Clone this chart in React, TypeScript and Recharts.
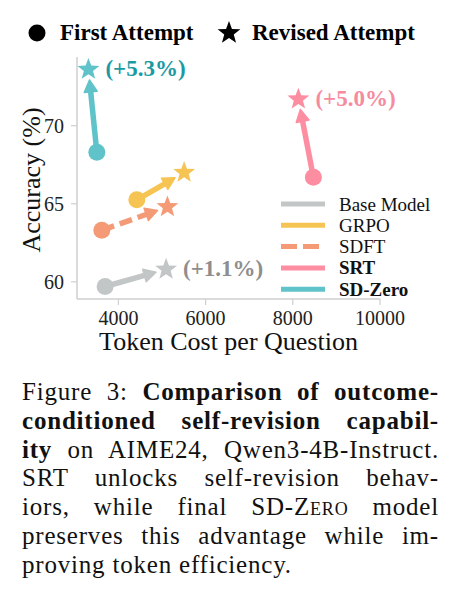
import { ScatterChart, Scatter, XAxis, YAxis, Legend } from 'recharts';

const SERIES = ['Base Model', 'GRPO', 'SDFT', 'SRT', 'SD-Zero'];
const FIRST_COST = [3695, 4422, 3619, 8472, 3505];
const FIRST_ACC = [59.7, 65.25, 63.3, 66.7, 68.3];
const REVISED_COST = [5094, 5507, 5124, 8128, 3312];
const REVISED_ACC = [60.8, 67.0, 64.8, 71.7, 73.6];
const GAIN_LABELS = ['(+1.1%)', '', '', '(+5.0%)', '(+5.3%)'];
const X_TICKS = [4000, 6000, 8000, 10000];
const Y_TICKS = [60, 65, 70];

const COLORS = ['#c3c6c6', '#f6c453', '#f59a77', '#fd8ea2', '#60c3c9'];
const LABEL_COLORS = ['#8e8e8e', '', '', '#f68ba0', '#1c9aa3'];
const DASHED = [false, false, true, false, false];
const BOLD_LEGEND = [false, false, false, true, true];

const FONT = "'Liberation Serif', 'Times New Roman', serif";
const AXIS_COLOR = '#cfcfcf';

function starPath(cx: number, cy: number, R: number, r: number) {
  let d = '';
  for (let i = 0; i < 10; i++) {
    const rad = i % 2 === 0 ? R : r;
    const a = -Math.PI / 2 + (i * Math.PI) / 5;
    d += (i === 0 ? 'M' : 'L') + (cx + rad * Math.cos(a)).toFixed(2) + ',' + (cy + rad * Math.sin(a)).toFixed(2);
  }
  return d + 'Z';
}

// arrow from first attempt to revised attempt, stopping short of the star
function Arrow({ points, color, dashed }: any) {
  if (!points || points.length < 2) return null;
  const [a, b] = points;
  const dx = b.x - a.x;
  const dy = b.y - a.y;
  const len = Math.hypot(dx, dy) || 1;
  const ux = dx / len;
  const uy = dy / len;
  const gap = 10.5;
  const head = 12;
  const w = 6.5;
  const tipX = b.x - ux * gap;
  const tipY = b.y - uy * gap;
  const baseX = tipX - ux * head;
  const baseY = tipY - uy * head;
  const px = -uy;
  const py = ux;
  return (
    <g>
      <line
        x1={a.x}
        y1={a.y}
        x2={baseX + ux * 2}
        y2={baseY + uy * 2}
        stroke={color}
        strokeWidth={5.5}
        strokeDasharray={dashed ? '13 6' : undefined}
      />
      <path
        d={`M${tipX},${tipY} L${baseX + px * w},${baseY + py * w} L${baseX - px * w},${baseY - py * w} Z`}
        fill={color}
        stroke={color}
        strokeWidth={1.5}
        strokeLinejoin="round"
      />
    </g>
  );
}

function Marker(props: any) {
  const { cx, cy, payload } = props;
  const color = COLORS[payload.idx];
  if (payload.kind === 'first') {
    return <circle cx={cx} cy={cy} r={8.5} fill={color} />;
  }
  const gain = GAIN_LABELS[payload.idx];
  return (
    <g>
      <path d={starPath(cx, cy, 11.5, 4.8)} fill={color} />
      {gain && (
        <text
          x={cx + 17}
          y={cy - 1}
          dominantBaseline="central"
          fill={LABEL_COLORS[payload.idx]}
          fontFamily={FONT}
          fontWeight="bold"
          fontSize={23}
        >
          {gain}
        </text>
      )}
    </g>
  );
}

function SeriesLegend() {
  return (
    <svg width={180} height={110}>
      {SERIES.map((name, i) => {
        const y = 12 + i * 21.3;
        return (
          <g key={name}>
            <line
              x1={6}
              x2={50}
              y1={y}
              y2={y}
              stroke={COLORS[i]}
              strokeWidth={5}
              strokeDasharray={DASHED[i] ? '16 6' : undefined}
            />
            <text
              x={64}
              y={y}
              dominantBaseline="central"
              fontFamily={FONT}
              fontSize={19}
              fontWeight={BOLD_LEGEND[i] ? 'bold' : 'normal'}
              fill="#111"
            >
              {name}
            </text>
          </g>
        );
      })}
    </svg>
  );
}

function TopLegend() {
  return (
    <svg width={455} height={60} style={{ position: 'absolute', left: 0, top: 0 }}>
      <circle cx={37} cy={33} r={8.5} fill="#000" />
      <text x={60} y={40} fontFamily={FONT} fontWeight="bold" fontSize={23} fill="#000">
        First Attempt
      </text>
      <path d={starPath(229, 33, 12, 5)} fill="#000" />
      <text x={252} y={40} fontFamily={FONT} fontWeight="bold" fontSize={23} fill="#000">
        Revised Attempt
      </text>
    </svg>
  );
}

const lineStyle = (last: boolean): React.CSSProperties => ({
  height: 28.8,
  lineHeight: '28.8px',
  whiteSpace: 'nowrap',
  textAlign: last ? 'left' : 'justify',
  textAlignLast: last ? 'left' : 'justify',
});

function Caption() {
  return (
    <div
      style={{
        position: 'absolute',
        left: 22,
        top: 378,
        width: 417,
        fontFamily: FONT,
        fontSize: 25,
        letterSpacing: 0.8,
        color: '#111',
      }}
    >
      <div style={lineStyle(false)}>
        Figure 3: <b>Comparison of outcome-</b>
      </div>
      <div style={lineStyle(false)}>
        <b>conditioned self-revision capabil-</b>
      </div>
      <div style={lineStyle(false)}>
        <b>ity</b> on AIME24, Qwen3-4B-Instruct.
      </div>
      <div style={lineStyle(false)}>SRT unlocks self-revision behav-</div>
      <div style={lineStyle(false)}>
        iors, while final SD-<span style={{ fontVariant: 'small-caps' }}>Zero</span> model
      </div>
      <div style={lineStyle(false)}>preserves this advantage while im-</div>
      <div style={lineStyle(true)}>proving token efficiency.</div>
    </div>
  );
}

export default function App() {
  return (
    <div
      style={{
        position: 'absolute',
        left: 0,
        top: 0,
        width: 455,
        height: 602,
        background: '#fff',
        overflow: 'hidden',
      }}
    >
      <div style={{ position: 'absolute', left: 0, top: 0 }}>
        <ScatterChart width={455} height={360} margin={{ top: 57, right: 75, bottom: 0, left: 0 }}>
          <XAxis
            type="number"
            dataKey="x"
            domain={[3050, 10000]}
            ticks={X_TICKS}
            height={61}
            axisLine={{ stroke: AXIS_COLOR, strokeWidth: 1.5 }}
            tickLine={{ stroke: AXIS_COLOR, strokeWidth: 1.2 }}
            tickSize={6}
            tickMargin={6}
            tick={{ fontSize: 20, fontFamily: FONT, fill: '#222' }}
            label={{
              content: (p: any) => {
                const vb = p.viewBox || {};
                return (
                  <text
                    x={vb.x + vb.width / 2}
                    y={vb.y + 51}
                    textAnchor="middle"
                    fontFamily={FONT}
                    fontSize={26}
                    fill="#111"
                  >
                    Token Cost per Question
                  </text>
                );
              },
            }}
          />
          <YAxis
            type="number"
            dataKey="y"
            domain={[58.9, 74.4]}
            ticks={Y_TICKS}
            width={77}
            axisLine={{ stroke: AXIS_COLOR, strokeWidth: 1.5 }}
            tickLine={{ stroke: AXIS_COLOR, strokeWidth: 1.2 }}
            tickSize={6}
            tickMargin={7}
            tick={{ fontSize: 20, fontFamily: FONT, fill: '#222' }}
            label={{
              content: (p: any) => {
                const vb = p.viewBox || {};
                const x = vb.x + 40;
                const y = vb.y + vb.height / 2 + 2;
                return (
                  <text
                    x={x}
                    y={y}
                    transform={`rotate(-90, ${x}, ${y})`}
                    textAnchor="middle"
                    fontFamily={FONT}
                    fontSize={26}
                    fill="#111"
                  >
                    Accuracy (%)
                  </text>
                );
              },
            }}
          />
          {SERIES.map((name, i) => (
            <Scatter
              key={name}
              name={name}
              data={[
                { x: FIRST_COST[i], y: FIRST_ACC[i], idx: i, kind: 'first' },
                { x: REVISED_COST[i], y: REVISED_ACC[i], idx: i, kind: 'revised' },
              ]}
              fill={COLORS[i]}
              line={(p: any) => <Arrow points={p.points} color={COLORS[i]} dashed={DASHED[i]} />}
              shape={(p: any) => <Marker {...p} />}
              isAnimationActive={false}
            />
          ))}
          <Legend
            layout="vertical"
            align="center"
            verticalAlign="middle"
            content={() => <SeriesLegend />}
            wrapperStyle={{ position: 'absolute', left: 275, top: 192, width: 180, height: 110 }}
          />
        </ScatterChart>
      </div>
      <TopLegend />
      <Caption />
    </div>
  );
}
